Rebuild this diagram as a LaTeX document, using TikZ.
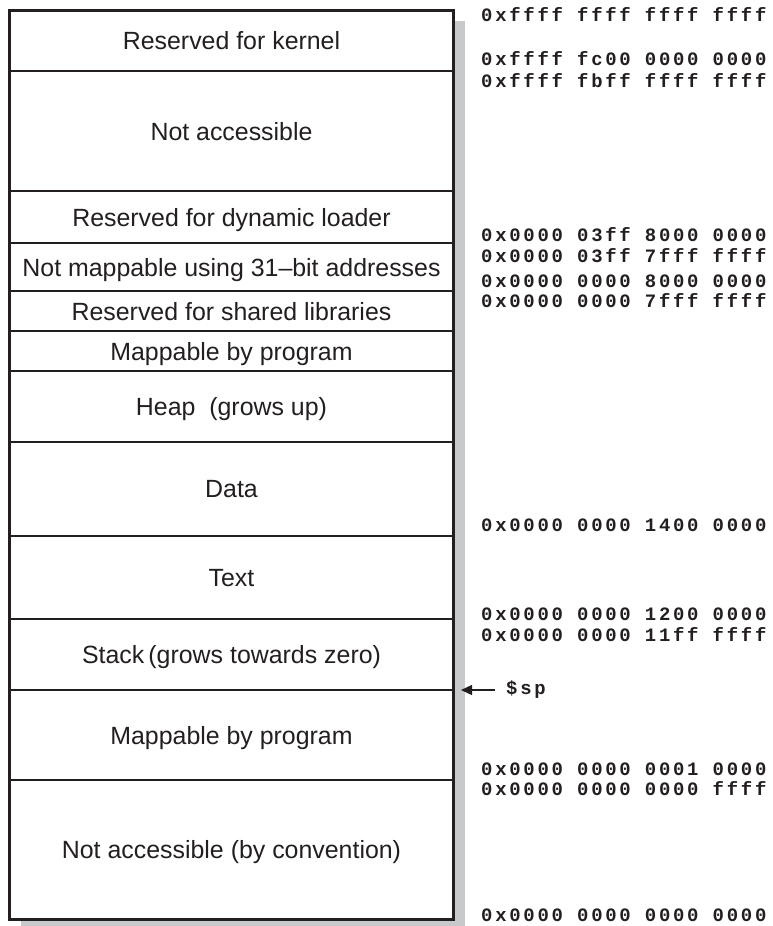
\documentclass[tikz,border=0pt]{standalone}
\usepackage{fontspec}
\setmainfont{Liberation Sans}
\newfontfamily\addrfont[LetterSpace=14.5]{Liberation Mono}
\usepackage{tikz}
\usetikzlibrary{positioning,arrows.meta}

\definecolor{shadowgray}{RGB}{200,201,203}
\definecolor{inkgray}{RGB}{35,31,32}

\tikzset{
  region/.style={draw=inkgray, line width=1.2bp, fill=white, minimum width=443bp,
    inner sep=0pt, outer sep=0pt, text depth=0pt, text=inkgray,
    font=\fontsize{25}{28}\selectfont},
  addr/.style={anchor=base west, inner sep=0pt, text=inkgray,
    font=\addrfont\bfseries\fontsize{19}{22}\selectfont},
}

\begin{document}
\begin{tikzpicture}[x=1bp, y=-1bp]
  \useasboundingbox (0,0) rectangle (773,926);
  % shadow behind the memory map
  \fill[shadowgray] (21,21) rectangle (465,926);

  % the regions, top to bottom
  \node[region, minimum height=61bp] (kernel) at (231.5,40.5) {Reserved for kernel};
  \node[region, minimum height=120bp, below=0pt of kernel] (noacc) {Not accessible};
  \node[region, minimum height=52bp, below=0pt of noacc] (dynld) {Reserved for dynamic loader};
  \node[region, minimum height=48bp, below=0pt of dynld] (nomap) {Not mappable using 31--bit addresses};
  \node[region, minimum height=40bp, below=0pt of nomap] (shlib) {Reserved for shared libraries};
  \node[region, minimum height=40bp, below=0pt of shlib] (mapup) {Mappable by program};
  \node[region, minimum height=71bp, below=0pt of mapup] (heap) {Heap\ \ (grows up)};
  \node[region, minimum height=94bp, below=0pt of heap] (data) {Data};
  \node[region, minimum height=83bp, below=0pt of data] (text) {Text};
  \node[region, minimum height=71bp, below=0pt of text] (stack) {Stack\,(grows towards zero)};
  \node[region, minimum height=90bp, below=0pt of stack] (maplow) {Mappable by program};
  \node[region, minimum height=139bp, below=0pt of maplow] (conv) {Not accessible (by convention)};

  % outer frame
  \draw[inkgray, line width=3bp] (kernel.north west) rectangle (conv.south east);

  % addresses
  \node[addr] (a1) at (481,21) {0xffff ffff ffff ffff};
  \node[addr] (a2) at (481,65) {0xffff fc00 0000 0000};
  \node[addr] (a3) at (481,87) {0xffff fbff ffff ffff};
  \node[addr] (a4) at (481,241) {0x0000 03ff 8000 0000};
  \node[addr] (a5) at (481,262) {0x0000 03ff 7fff ffff};
  \node[addr] (a6) at (481,287) {0x0000 0000 8000 0000};
  \node[addr] (a7) at (481,307) {0x0000 0000 7fff ffff};
  \node[addr] (a8) at (481,531) {0x0000 0000 1400 0000};
  \node[addr] (a9) at (481,620) {0x0000 0000 1200 0000};
  \node[addr] (a10) at (481,641) {0x0000 0000 11ff ffff};
  \node[addr] (a11) at (481,775) {0x0000 0000 0001 0000};
  \node[addr] (a12) at (481,795) {0x0000 0000 0000 ffff};
  \node[addr] (a13) at (481,921) {0x0000 0000 0000 0000};

  % stack pointer
  \coordinate (sptip) at (461,690);
  \node[addr, anchor=west, inner xsep=11bp] (sp) at (495,690) {\$sp};
  \draw[inkgray, line width=1.2bp, -{Triangle[length=11bp,width=10bp]}] (sp.west) -- (sptip);
\end{tikzpicture}
\end{document}
